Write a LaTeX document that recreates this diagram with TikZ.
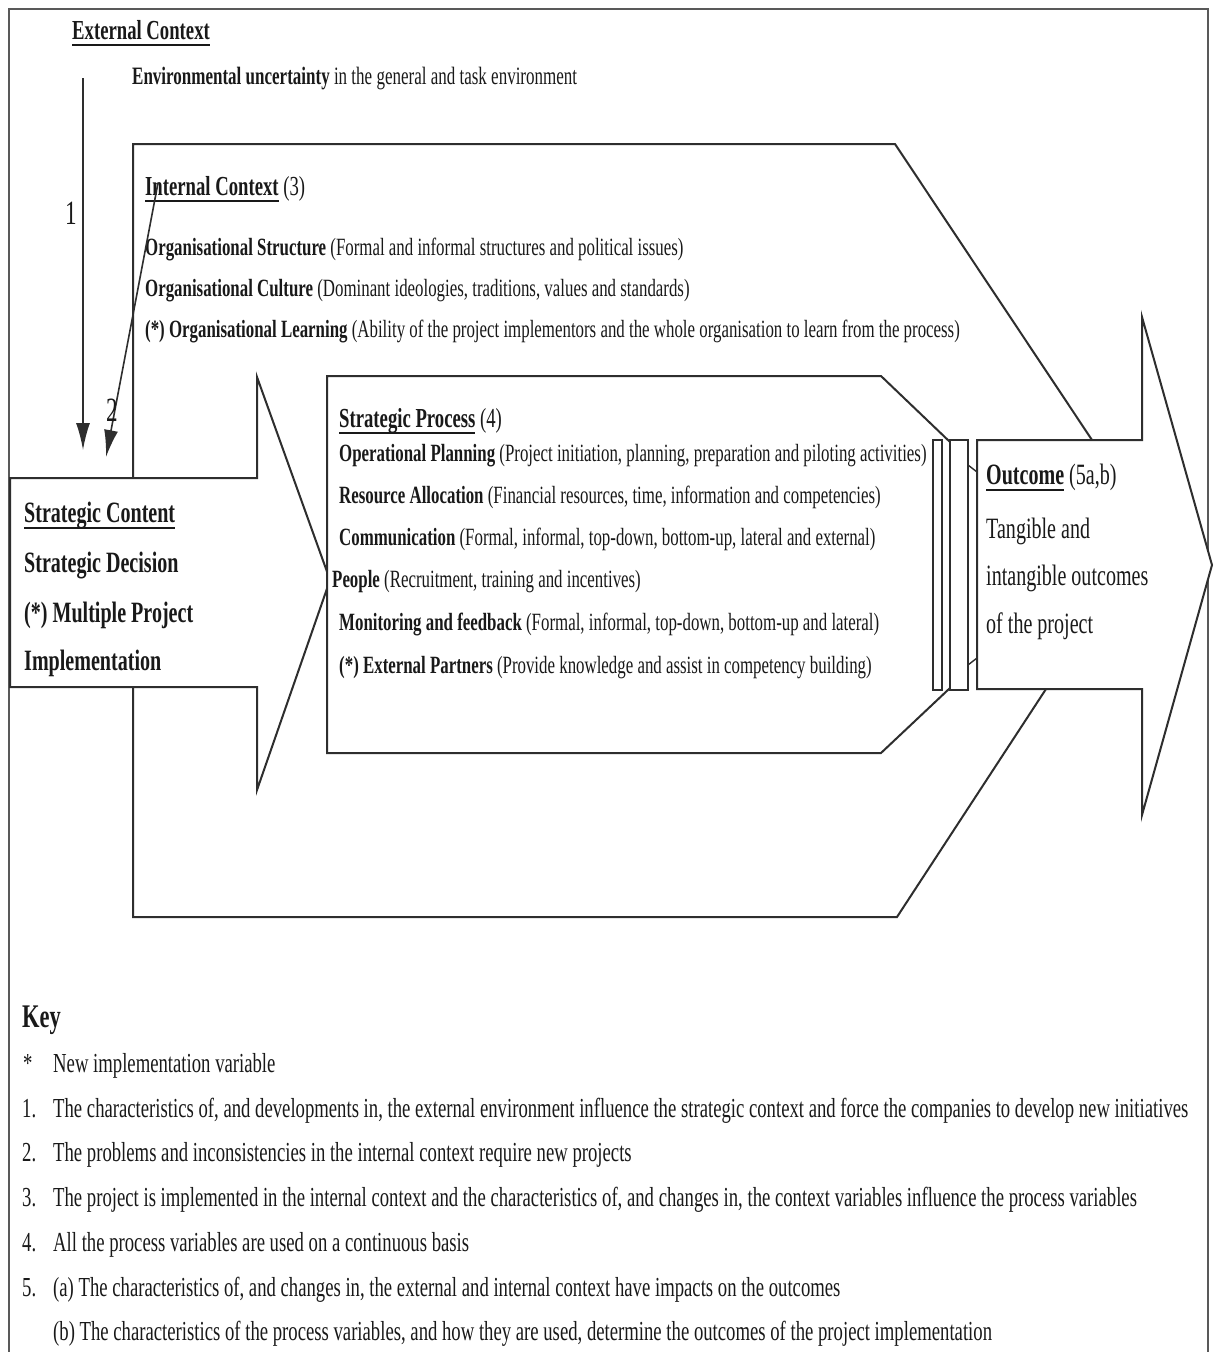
\documentclass[tikz,border=0pt]{standalone}
\usepackage{fontspec}
\setmainfont{Liberation Serif}[FakeStretch=0.68]
\usetikzlibrary{arrows.meta}
\definecolor{lc}{gray}{0.18}
\definecolor{fc}{gray}{0.35}
\newcommand\fsz[1]{\fontsize{#1pt}{#1pt}\selectfont}
\newcommand\myul[1]{\sbox0{#1}\rlap{\rule[-7pt]{\wd0}{2.4pt}}\usebox0}
\tikzset{
  shp/.style={draw=lc, line width=2pt, fill=white, line join=miter},
  thin/.style={draw=lc, line width=1.4pt},
  frm/.style={draw=fc, line width=1.4pt},
  txt/.style={anchor=base west, inner sep=0pt, text=black!90},
  body/.style={txt, font=\fsz{24.8}},
  head/.style={txt, font=\fsz{27.5}},
  big/.style={txt, font=\fsz{29.5}},
  keyt/.style={txt, font=\fsz{27.5}},
  lab/.style={anchor=center, inner sep=0pt, font=\fsz{34}, text=black!90},
  arr/.style={draw=lc, line width=1.6pt, -{Latex[length=27pt,width=14pt]}}
}
\begin{document}
\begin{tikzpicture}[x=1pt,y=-1pt]
\useasboundingbox (0,0) rectangle (1213,1352);
% outer frame
\draw[frm] (9,1352) -- (9,9) -- (1208,9) -- (1208,1352);
% internal context
\path[shp] (133,144) -- (895,144) -- (1092,440) -- (1046,689) -- (897,917) -- (133,917) -- cycle;
% strategic content arrow
\path[shp] (10,478) -- (257,478) -- (257,377) -- (330,580) -- (257,790) -- (257,687) -- (10,687) -- cycle;
% strategic process
\path[shp] (327,376) -- (881,376) -- (950,442) -- (950,688) -- (881,753) -- (327,753) -- cycle;
\path[shp, line width=1.5pt] (933,440) rectangle (942,690);
\path[shp] (950,440) rectangle (968,690);
\draw[thin] (968,465) -- (977,472);
\draw[thin] (968,665) -- (977,658);
% outcome arrow
\path[shp] (977,440) -- (1142,440) -- (1142,317) -- (1212,565) -- (1142,815) -- (1142,689) -- (977,689) -- cycle;

% texts
\node[head] (ext) at (72,39) {\myul{\bfseries External Context}};
\node[body, font=\fsz{25}] (env) at (132,84) {\textbf{Environmental uncertainty} in the general and task environment};
\node[head] (int) at (145,195) {\myul{\textbf{Internal Context}} (3)};
\node[body] (int1) at (145,255) {\textbf{Organisational Structure} (Formal and informal structures and political issues)};
\node[body] (int2) at (145,296) {\textbf{Organisational Culture} (Dominant ideologies, traditions, values and standards)};
\node[body] (int3) at (145,337) {\textbf{(*) Organisational Learning} (Ability of the project implementors and the whole organisation to learn from the process)};

\node[head] (proc) at (339,427) {\myul{\textbf{Strategic Process}} (4)};
\node[body] (p1) at (339,461) {\textbf{Operational Planning} (Project initiation, planning, preparation and piloting activities)};
\node[body] (p2) at (339,503) {\textbf{Resource Allocation} (Financial resources, time, information and competencies)};
\node[body] (p3) at (339,545) {\textbf{Communication} (Formal, informal, top-down, bottom-up, lateral and external)};
\node[body] (p4) at (332,587) {\textbf{People} (Recruitment, training and incentives)};
\node[body] (p5) at (339,630) {\textbf{Monitoring and feedback} (Formal, informal, top-down, bottom-up and lateral)};
\node[body] (p6) at (339,673) {\textbf{(*) External Partners} (Provide knowledge and assist in competency building)};

\node[big] (sc) at (24,522) {\myul{\textbf{Strategic Content}}};
\node[big] (sc1) at (24,572) {\textbf{Strategic Decision}};
\node[big] (sc2) at (24,622) {\textbf{(*) Multiple Project}};
\node[big] (sc3) at (24,670) {\textbf{Implementation}};

\node[big] (out) at (986,484) {\myul{\textbf{Outcome}} (5a,b)};
\node[big] (out1) at (986,538) {Tangible and};
\node[big] (out2) at (986,585) {intangible outcomes};
\node[big] (out3) at (986,633) {of the project};

% connectors 1 and 2
\coordinate (a1s) at (83,78);
\coordinate (a1e) at (83,450);
\coordinate (a2s) at (158,183);
\coordinate (a2e) at (106,457);
\draw[arr] (a1s) -- (a1e);
\draw[arr] (a2s) -- (a2e);
\node[lab] (l1) at (71,213) {1};
\node[lab] (l2) at (112,410) {2};

% key
\node[txt, font=\fsz{33}\bfseries] (key) at (22,1027) {Key};
\node[keyt] (kst) at (23,1072) {*};
\node[keyt] (kstt) at (53,1072) {New implementation variable};
\node[keyt] (k1n) at (22,1117) {1.};
\node[keyt] (k1) at (53,1117) {The characteristics of, and developments in, the external environment influence the strategic context and force the companies to develop new initiatives};
\node[keyt] (k2n) at (22,1161) {2.};
\node[keyt] (k2) at (53,1161) {The problems and inconsistencies in the internal context require new projects};
\node[keyt] (k3n) at (22,1206) {3.};
\node[keyt] (k3) at (53,1206) {The project is implemented in the internal context and the characteristics of, and changes in, the context variables influence the process variables};
\node[keyt] (k4n) at (22,1251) {4.};
\node[keyt] (k4) at (53,1251) {All the process variables are used on a continuous basis};
\node[keyt] (k5n) at (22,1296) {5.};
\node[keyt] (k5a) at (53,1296) {(a) The characteristics of, and changes in, the external and internal context have impacts on the outcomes};
\node[keyt] (k5b) at (53,1340) {(b) The characteristics of the process variables, and how they are used, determine the outcomes of the project implementation};
\end{tikzpicture}
\end{document}
